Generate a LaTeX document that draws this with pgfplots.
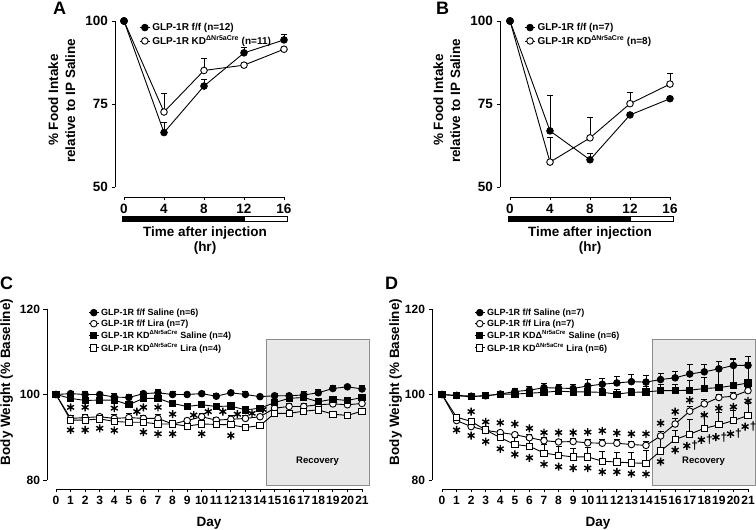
\documentclass[border=0pt]{standalone}
\usepackage{pgfplots}
\pgfplotsset{compat=1.18}
\usepackage{fontspec}
\setmainfont{Liberation Sans}
\pgfplotsset{
  gp/.style={
    scale only axis, clip=false,
    axis lines=left, axis line style={-, line width=0.9pt},
    tick align=outside, major tick length=3.5pt,
    every tick/.style={line width=0.9pt, black},
    /pgf/number format/assume math mode=true,
    legend style={draw=none, fill=none, anchor=north west, inner sep=0pt, row sep=-1pt,
       font=\bfseries\fontsize{9}{9.5}\selectfont, cells={anchor=west}},
    legend image code/.code={\draw[mark repeat=2,mark phase=2,##1] plot coordinates {(0pt,0pt) (5pt,0pt) (10pt,0pt)};},
  },
  tl/.style={
    xticklabel={\hbox{\bfseries\fontsize{#1}{#1}\selectfont\pgfmathprintnumber[assume math mode=true]{\tick}}},
    yticklabel={\hbox{\bfseries\fontsize{#1}{#1}\selectfont\pgfmathprintnumber[assume math mode=true]{\tick}}}},
  eb/.style={error bars/.cd, y dir=plus, y explicit,
    error mark options={rotate=90, mark size=3pt, line width=0.9pt, black},
    error bar style={line width=0.9pt, black}},
  fc/.style={black, line width=0.9pt, mark=*, mark size=3.3pt, mark options={solid, fill=black}},
  oc/.style={black, line width=0.9pt, mark=*, mark size=3.3pt, mark options={solid, fill=white}},
  fs/.style={black, line width=0.9pt, mark=square*, mark size=3.1pt, mark options={solid, fill=black}},
  os/.style={black, line width=0.9pt, mark=square*, mark size=3.1pt, mark options={solid, fill=white}},
  st/.style={only marks, mark=asterisk, mark size=4pt, mark options={line width=1.4pt, black}, forget plot},
}
\newcommand{\lab}{\bfseries\fontsize{13.5}{16}\selectfont}
\begin{document}
\begin{tikzpicture}
\useasboundingbox (0pt,0pt) rectangle (756pt,530pt);
% ---------------- Panel A
\begin{axis}[gp, tl=13.5, at={(124pt,343pt)}, anchor=south west, width=160pt, height=166pt,
  xmin=0, xmax=16, ymin=50, ymax=100, xtick={0,4,8,12,16}, ytick={50,75,100},
  axis x line shift=10pt, axis y line shift=9pt,
  legend style={at={(0.095,1.0)}, font=\bfseries\fontsize{10}{10.5}\selectfont, row sep=0pt}]
\addplot[fc, eb] table[x=x,y=y,y error=e,row sep=\\]{x y e\\0 100 0\\4 66.4 3.0\\8 80.4 2.1\\12 90.4 1.5\\16 94.3 1.6\\};
\addlegendentry{GLP-1R f/f (n=12)}
\addplot[oc, eb] table[x=x,y=y,y error=e,row sep=\\]{x y e\\0 100 0\\4 72.6 5.6\\8 85.1 3.5\\12 86.7 0\\16 91.5 0\\};
\addlegendentry{GLP-1R KD\textsuperscript{ΔNr5aCre} (n=11)}
\addplot[fc, forget plot] coordinates {(0,100)};
\fill[black] (axis cs:-0.2,41.3) rectangle (axis cs:12.1,39.8);
\draw[line width=0.6pt] (axis cs:-0.2,41.3) rectangle (axis cs:16.3,39.8);
\end{axis}
% ---------------- Panel B
\begin{axis}[gp, tl=13.5, at={(510pt,343pt)}, anchor=south west, width=160pt, height=166pt,
  xmin=0, xmax=16, ymin=50, ymax=100, xtick={0,4,8,12,16}, ytick={50,75,100},
  axis x line shift=10pt, axis y line shift=10pt,
  legend style={at={(0.09,1.0)}, font=\bfseries\fontsize{10}{10.5}\selectfont, row sep=0pt}]
\addplot[fc, eb] table[x=x,y=y,y error=e,row sep=\\]{x y e\\0 100 0\\4 66.9 10.6\\8 58.2 1.8\\12 71.7 0\\16 76.6 0\\};
\addlegendentry{GLP-1R f/f (n=7)}
\addplot[oc, eb] table[x=x,y=y,y error=e,row sep=\\]{x y e\\0 100 0\\4 57.5 7.4\\8 64.8 6.2\\12 75.1 3.4\\16 81.0 3.3\\};
\addlegendentry{GLP-1R KD\textsuperscript{ΔNr5aCre} (n=8)}
\addplot[fc, forget plot] coordinates {(0,100)};
\fill[black] (axis cs:-0.2,41.3) rectangle (axis cs:12.1,39.8);
\draw[line width=0.6pt] (axis cs:-0.2,41.3) rectangle (axis cs:16.3,39.8);
\end{axis}
% ---------------- Panel C
\begin{axis}[gp, tl=12, at={(56pt,50pt)}, anchor=south west, width=306pt, height=171pt,
  xmin=0, xmax=21, ymin=80, ymax=120, xtick={0,...,21}, ytick={80,100,120},
  axis x line shift=9pt, axis y line shift=9pt,
  xticklabel style={inner xsep=0pt},
  legend style={at={(0.105,1.015)}}]
\fill[black!9] (axis cs:14.46,112.9) rectangle (axis cs:21.48,78.8);
\draw[black!45, line width=0.8pt] (axis cs:14.46,112.9) rectangle (axis cs:21.48,78.8);
\node[font=\bfseries\fontsize{9.5}{10}\selectfont] at (axis cs:17.95,84.5) {Recovery};
\addplot[fc, eb] table[x=x,y=y,y error=e,row sep=\\]{x y e\\
0 100 0\\1 100.2 0.6\\2 100 0.6\\3 100 0.5\\4 99.4 0.8\\5 99.3 0.8\\6 100.2 0.6\\7 100.4 0.8\\8 100 0.8\\9 100 0.4\\10 100.2 0.6\\
11 99.6 0.6\\12 100.4 0.6\\13 100 0.6\\14 99.5 0.6\\15 99.7 0.5\\16 99.7 0.5\\17 99.9 0.9\\18 100.4 0.7\\19 101.4 0.7\\20 101.8 0.4\\21 101.3 0.8\\};
\addlegendentry{GLP-1R f/f Saline (n=6)}
\addplot[oc, eb] table[x=x,y=y,y error=e,row sep=\\]{x y e\\
0 100 0\\1 94.4 0.6\\2 94.6 0.7\\3 94.8 0.6\\4 94.4 0.9\\5 94.6 0.9\\6 94.4 0.8\\7 94.4 0.9\\8 93.1 0.6\\9 93.9 0.6\\10 94.8 0.7\\
11 94.0 0.7\\12 94.2 0.9\\13 94.4 0.8\\14 94.8 0.6\\15 96.8 0.6\\16 97.2 0.6\\17 97.2 0.7\\18 97.6 0.6\\19 97.8 0.6\\20 97.6 0.6\\21 97.9 0.6\\};
\addlegendentry{GLP-1R f/f Lira (n=7)}
\addplot[fs, eb] table[x=x,y=y,y error=e,row sep=\\]{x y e\\
0 100 0\\1 99.1 0.8\\2 98.6 0.8\\3 98.7 0.6\\4 98.7 0.8\\5 97.6 0.8\\6 99.1 0.8\\7 99.1 0.8\\8 97.9 0.6\\9 97.2 0.5\\10 97.6 0.5\\
11 97.2 0.5\\12 97.3 0.5\\13 96.4 0.6\\14 96.8 0.6\\15 98.1 0.6\\16 99.1 0.8\\17 99.3 0.8\\18 98.3 0.7\\19 98.9 0.7\\20 98.6 0.7\\21 99.3 0.8\\};
\addlegendentry{GLP-1R KD\textsuperscript{ΔNr5aCre} Saline (n=4)}
\addplot[os, eb] table[x=x,y=y,y error=e,row sep=\\]{x y e\\
0 100 0\\1 94.0 0.6\\2 94.0 0.6\\3 94.3 0.6\\4 93.7 0.6\\5 93.5 0.6\\6 93.5 0.6\\7 93.1 0.6\\8 93.1 0.5\\9 92.6 0.5\\10 93.1 0.5\\
11 93.0 0.5\\12 92.9 0.5\\13 92.3 0.5\\14 92.7 0.5\\15 95.6 0.5\\16 95.6 0.5\\17 96.1 0.5\\18 96.4 0.5\\19 95.4 0.5\\20 95.1 0.5\\21 96.1 0.5\\};
\addlegendentry{GLP-1R KD\textsuperscript{ΔNr5aCre} Lira (n=4)}
\addplot[fs, forget plot] coordinates {(0,100)};
\addplot[st] coordinates {(1,97.0) (2,97.0) (4,96.8) (5.55,96.0) (6,97.0) (7,97.0) (8,95.4) (9.45,95.2) (10.45,96.0) (11.45,96.0) (12.45,95.4) (13.45,95.6) (14.2,96.5)
 (1,91.7) (2,91.7) (3,92.1) (4,91.6) (6,91.2) (7,90.8) (8,90.8) (10,90.8) (12,90.4)};
\end{axis}
% ---------------- Panel D
\begin{axis}[gp, tl=12, at={(442pt,50pt)}, anchor=south west, width=306pt, height=171pt,
  xmin=0, xmax=21, ymin=80, ymax=120, xtick={0,...,21}, ytick={80,100,120},
  axis x line shift=9pt, axis y line shift=10pt,
  xticklabel style={inner xsep=0pt},
  legend style={at={(0.105,1.015)}}]
\fill[black!9] (axis cs:14.46,112.9) rectangle (axis cs:21.5,78.8);
\draw[black!45, line width=0.8pt] (axis cs:14.46,112.9) rectangle (axis cs:21.5,78.8);
\node[font=\bfseries\fontsize{9.5}{10}\selectfont] at (axis cs:17.95,84.5) {Recovery};
\addplot[fc, eb] table[x=x,y=y,y error=e,row sep=\\]{x y e\\
0 100 0\\1 99.8 0.3\\2 99.6 0.4\\3 99.7 0.5\\4 100.1 0.6\\5 100.7 0.7\\6 101.0 0.8\\7 101.6 0.9\\8 101.5 0.9\\9 101.4 1.0\\10 102.0 1.5\\
11 102.4 1.4\\12 102.7 1.5\\13 103.0 1.6\\14 102.9 1.6\\15 103.5 1.5\\16 103.9 1.5\\17 104.8 2.2\\18 105.3 1.8\\19 106.0 1.7\\20 106.8 1.6\\21 106.8 2.0\\};
\addlegendentry{GLP-1R f/f Saline (n=7)}
\addplot[oc, eb] table[x=x,y=y,y error=e,row sep=\\]{x y e\\
0 100 0\\1 93.9 0.4\\2 92.5 0.6\\3 91.6 0.6\\4 91.1 0.6\\5 90.6 0.6\\6 89.9 0.7\\7 89.2 0.7\\8 88.9 0.7\\9 89.0 0.7\\10 88.7 0.8\\
11 88.6 0.8\\12 88.6 0.8\\13 88.3 0.8\\14 88.1 0.8\\15 90.3 1.0\\16 93.1 1.2\\17 96.1 1.0\\18 97.8 1.0\\19 99.3 0.8\\20 99.6 0.9\\21 100.9 0.8\\};
\addlegendentry{GLP-1R f/f Lira (n=7)}
\addplot[fs, eb] table[x=x,y=y,y error=e,row sep=\\]{x y e\\
0 100 0\\1 99.7 0.3\\2 99.5 0.4\\3 99.7 0.4\\4 100.1 0.5\\5 100.1 0.6\\6 100.3 0.7\\7 100.5 0.8\\8 100.8 0.8\\9 100.6 0.9\\10 100.6 0.9\\
11 100.5 0.9\\12 100.1 1.0\\13 100.5 1.0\\14 100.6 1.2\\15 100.9 1.5\\16 100.9 1.5\\17 101.0 2.3\\18 101.4 2.5\\19 101.6 4.6\\20 102.1 6.0\\21 102.7 4.8\\};
\addlegendentry{GLP-1R KDΔ\textsuperscript{Nr5aCre} Saline (n=6)}
\addplot[os, eb] table[x=x,y=y,y error=e,row sep=\\]{x y e\\
0 100 0\\1 94.7 0.5\\2 93.7 0.8\\3 91.7 0.8\\4 89.9 1.2\\5 88.3 1.6\\6 87.9 1.7\\7 86.3 2.0\\8 85.8 2.0\\9 85.4 2.0\\10 85.4 2.1\\
11 84.4 2.3\\12 84.2 2.3\\13 84.0 2.5\\14 83.9 2.9\\15 86.8 4.0\\16 89.5 2.2\\17 90.7 3.5\\18 92.1 3.3\\19 92.9 2.9\\20 93.9 2.4\\21 95.1 2.8\\};
\addlegendentry{GLP-1R KD\textsuperscript{ΔNr5aCre} Lira (n=6)}
\addplot[fs, forget plot] coordinates {(0,100)};
\addplot[st] coordinates {(2,96.0) (3,93.6) (4,93.4) (5,93.1) (6,92.1) (7,91.1) (8,91.1) (9,91.1) (10,91.2) (11,91.5) (12,91.0) (13,90.8) (14,90.8)
 (15,93.3) (16,96.0) (17,98.7) (18,95.2) (19,96.8) (20,97.1) (21,98.5)
 (1,91.7) (2,90.4) (3,89.0) (4,87.3) (5,86.0) (6,85.2) (7,83.7) (8,83.1) (9,82.8) (10,82.8) (11,81.9) (12,81.9) (13,81.5) (14,81.4)
 (15,84.3) (16,87.0) (16.8,88.0) (17.8,89.4) (18.8,90.0) (19.8,90.8) (20.8,92.5)};
\addplot[draw=none, mark=none, forget plot, nodes near coords={\textdagger},
  every node near coord/.style={anchor=center, font=\bfseries\fontsize{12}{12}\selectfont}]
  coordinates {(17.35,88.0) (18.35,89.4) (19.35,90.0) (20.35,90.8) (21.35,92.5)};
\end{axis}
% ---------------- labels
\node[anchor=base west, inner sep=0, font=\bfseries\fontsize{18}{18}\selectfont] at (53pt,515pt) {A};
\node[anchor=base west, inner sep=0, font=\bfseries\fontsize{18}{18}\selectfont] at (436pt,515pt) {B};
\node[anchor=base west, inner sep=0, font=\bfseries\fontsize{18}{18}\selectfont] at (0pt,240pt) {C};
\node[anchor=base west, inner sep=0, font=\bfseries\fontsize{18}{18}\selectfont] at (385pt,240pt) {D};
\node[rotate=90, anchor=base, inner sep=0, font=\lab] at (58pt,430pt) {\% Food Intake};
\node[rotate=90, anchor=base, inner sep=0, font=\lab] at (75pt,429pt) {relative to IP Saline};
\node[rotate=90, anchor=base, inner sep=0, font=\lab] at (443pt,430pt) {\% Food Intake};
\node[rotate=90, anchor=base, inner sep=0, font=\lab] at (460pt,429pt) {relative to IP Saline};
\node[anchor=base, inner sep=0, font=\lab] at (205pt,293pt) {Time after injection};
\node[anchor=base, inner sep=0, font=\lab] at (205pt,278pt) {(hr)};
\node[anchor=base, inner sep=0, font=\lab] at (590pt,293pt) {Time after injection};
\node[anchor=base, inner sep=0, font=\lab] at (590pt,278pt) {(hr)};
\node[rotate=90, anchor=base, inner sep=0, font=\lab] at (10pt,148pt) {Body Weight (\% Baseline)};
\node[rotate=90, anchor=base, inner sep=0, font=\lab] at (399pt,148pt) {Body Weight (\% Baseline)};
\node[anchor=base, inner sep=0, font=\lab] at (209pt,3pt) {Day};
\node[anchor=base, inner sep=0, font=\lab] at (598pt,3pt) {Day};
\end{tikzpicture}
\end{document}
